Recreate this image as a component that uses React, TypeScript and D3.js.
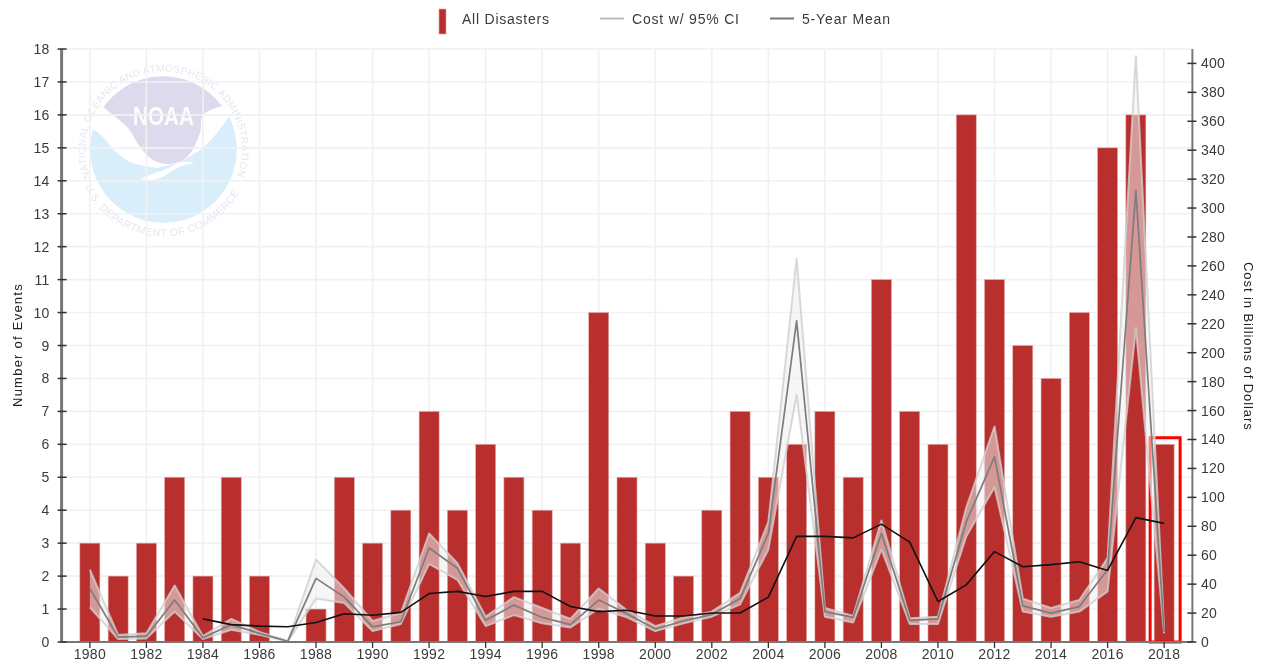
import React from "react";
import * as d3 from "d3";

const years = d3.range(1980, 2019);
const events = [3,2,3,5,2,5,2,0,1,5,3,4,7,4,6,5,4,3,10,5,3,2,4,7,5,6,7,5,11,7,6,16,11,9,8,10,15,16,6];
const costMean = [37,3.4,4,29,3,12,6,0.5,44,31,10.5,14,65,51,15,25.5,17,12,29,19.5,9,14.5,19,30,75,222,21,17,75,15,16,83,128,25,20,24.5,50,312,7];
const costUpper = [50,4.8,6,39,4,16,7,0.7,57,37,14.5,20,75,54.5,17.5,31,23.5,16,37,22,11,17,21,34,83,265,23.5,18,84,16.5,17.5,93,149,30,23.5,29,58,405,8];
const costLower = [24,2,2.5,21,2,8.5,5,0.3,30,27,7.5,12.5,54,43,11,18.6,13,10,23,17,7.5,13,17.5,26,64,171,17.5,13.5,64,12.5,12.5,73,107,21,17.5,21,35,217,6];
const meanYears = d3.range(1984, 2019);
const fiveYearMean = [16,12,11,10.5,13.5,19.5,18.5,20.5,33.5,35,31.5,35,35,24.5,21,22,18,18,20,20,31,73,73,72,81.5,69,28,39.5,62.5,52,53.5,55.5,49.5,86,82];
const eventTicks = d3.range(0, 19);
const costTicks = d3.range(0, 401, 20);
const yearTicks = d3.range(1980, 2019, 2);
const legendItems = ["All Disasters", "Cost w/ 95% CI", "5-Year Mean"];
const leftLabel = "Number of Events";
const rightLabel = "Cost in Billions of Dollars";

const FONT = "'Liberation Sans', Arial, sans-serif";
const TEXT = "#3a3a3a";

const x = d3.scaleLinear().domain([1979, 2019]).range([61.6, 1192.4]);
const yE = d3.scaleLinear().domain([0, 18]).range([642, 49]);
const yC = d3.scaleLinear().domain([0, 400]).range([642, 63.4]);

const idx = years.map((_, i) => i);
const band = d3.area<number>().x((i) => x(years[i])).y0((i) => yC(costLower[i])).y1((i) => yC(costUpper[i]))(idx)!;
const lineOf = (arr: number[]) => d3.line<number>().x((i) => x(years[i])).y((i) => yC(arr[i]))(idx)!;
const meanPath = d3.line<number>().x((_, i) => x(meanYears[i])).y((v) => yC(v))(fiveYearMean)!;

function Logo() {
  const cx = 163.5, cy = 149.5, r = 73.5;
  const rTop = 78, dyTop = 28, dxTop = Math.sqrt(rTop * rTop - dyTop * dyTop);
  const rBot = 87, dyBot = 37, dxBot = Math.sqrt(rBot * rBot - dyBot * dyBot);
  const curve = d3.line().curve(d3.curveCatmullRom.alpha(0.5));
  const tailOf = (pts: [number, number][]) => curve(pts)!.replace(/^M[^C]*/, "");
  const white = "M80,124 L92,128 " + tailOf([[92,128],[103,137],[117,153],[133,163],[157,168]]) +
    " L177,163 " + tailOf([[177,163],[200,150],[217,133],[230,115]]) + " L245,100 L245,60 L80,60 Z";
  const lav = "M103,107 A73.5,73.5 0 0 1 222,106 " + tailOf([[222,106],[203,115],[200,133],[187,157],[170,164],[153,160],[140,147],[128,128],[113,115],[103,107]]) + " Z";
  const tail = "M140,179 C155,172 165,171 177,163 C183,161 190,162 195,163 C185,164 178,167 170,172 C165,176 160,179 152,180 Z";
  return (
    <g>
      <defs>
        <clipPath id="logoClip"><circle cx={cx} cy={cy} r={r} /></clipPath>
        <path id="arcTop" d={`M${cx - dxTop},${cy + dyTop} A${rTop},${rTop} 0 1 1 ${cx + dxTop},${cy + dyTop}`} />
        <path id="arcBot" d={`M${cx - dxBot},${cy + dyBot} A${rBot},${rBot} 0 0 0 ${cx + dxBot},${cy + dyBot}`} />
      </defs>
      <g clipPath="url(#logoClip)">
        <circle cx={cx} cy={cy} r={r} fill="#d9eefb" />
        <path d={white} fill="#fff" />
        <path d={lav} fill="#dcdaec" />
        <path d={tail} fill="#fff" />
      </g>
      <text x={cx} y={125} textAnchor="middle" fontFamily={FONT} fontWeight="bold" fontSize={25} fill="#fff" fillOpacity={0.9} textLength={61} lengthAdjust="spacingAndGlyphs">NOAA</text>
      <text fontFamily={FONT} fontSize={10} fill="#e6e6f2" textLength={300} lengthAdjust="spacing">
        <textPath href="#arcTop">NATIONAL OCEANIC AND ATMOSPHERIC ADMINISTRATION</textPath>
      </text>
      <text fontFamily={FONT} fontSize={10.5} fill="#e6e6f2" textLength={190} lengthAdjust="spacing">
        <textPath href="#arcBot">U.S. DEPARTMENT OF COMMERCE</textPath>
      </text>
    </g>
  );
}

export default function App() {
  return (
    <svg width={1261} height={664} style={{ position: "fixed", left: 0, top: 0, filter: "blur(0.55px)" }}>
      <rect width={1261} height={664} fill="#fff" />
      <Logo />
      <g stroke="#f1f1f3" strokeWidth={1.6}>
        {eventTicks.slice(1).map((t) => <line key={t} x1={x(1979)} x2={x(2019)} y1={yE(t)} y2={yE(t)} />)}
        {yearTicks.map((t) => <line key={t} x1={x(t)} x2={x(t)} y1={yE(18)} y2={yE(0)} />)}
      </g>
      <g fill="#b92f2d" stroke="#e3a9a8" strokeWidth={0.6}>
        {years.map((yr, i) => events[i] > 0 && (
          <rect key={yr} x={x(yr) - 10} width={20} y={yE(events[i])} height={yE(0) - yE(events[i])} />
        ))}
      </g>
      <rect x={x(2018) - 14} width={30} y={yE(6.2)} height={yE(0) - yE(6.2)} fill="none" stroke="#f00" strokeWidth={3} />
      <path d={band} fill="#eeeeee" fillOpacity={0.55} />
      <g fill="none" strokeLinejoin="round">
        <path d={lineOf(costUpper)} stroke="#cfcfcf" strokeOpacity={0.8} strokeWidth={2} />
        <path d={lineOf(costLower)} stroke="#cfcfcf" strokeOpacity={0.8} strokeWidth={2} />
        <path d={lineOf(costMean)} stroke="#7d7d7d" strokeWidth={1.7} />
        <path d={meanPath} stroke="#111" strokeWidth={1.6} />
      </g>
      <g fill={TEXT} fontFamily={FONT} fontSize={14} letterSpacing={0.3}>
        <line x1={x(1979)} x2={x(2019)} y1={yE(0)} y2={yE(0)} stroke="#777" strokeWidth={2} />
        <line x1={x(1979)} x2={x(1979)} y1={yE(18)} y2={yE(0) + 1} stroke="#777" strokeWidth={3} />
        <line x1={x(2019)} x2={x(2019)} y1={yE(18)} y2={yE(0) + 1} stroke="#777" strokeWidth={2} />
        {eventTicks.map((t) => (
          <g key={t}>
            <line x1={x(1979) - 4} x2={x(1979) + 5} y1={yE(t)} y2={yE(t)} stroke="#333" strokeWidth={1.5} />
            <text x={x(1979) - 12} y={yE(t) + 5} textAnchor="end">{t}</text>
          </g>
        ))}
        {costTicks.map((t) => (
          <g key={t}>
            <line x1={x(2019) - 5} x2={x(2019) + 4} y1={yC(t)} y2={yC(t)} stroke="#333" strokeWidth={1.5} />
            <text x={x(2019) + 8.5} y={yC(t) + 5}>{t}</text>
          </g>
        ))}
        {yearTicks.map((t) => (
          <g key={t}>
            <line x1={x(t)} x2={x(t)} y1={yE(0)} y2={yE(0) + 6} stroke="#333" strokeWidth={1.3} />
            <text x={x(t)} y={yE(0) + 17} textAnchor="middle">{t}</text>
          </g>
        ))}
        <text transform="translate(22,345.5) rotate(-90)" textAnchor="middle" fontSize={13} fill="#222" textLength={123}>{leftLabel}</text>
        <text transform="translate(1244,346) rotate(90)" textAnchor="middle" fontSize={13} fill="#222" textLength={168}>{rightLabel}</text>
      </g>
      <g fontFamily={FONT} fontSize={14} fill={TEXT}>
        <rect x={439} y={9} width={7} height={25} fill="#b92f2d" stroke="#e3a9a8" strokeWidth={0.6} />
        <text x={462} y={24} textLength={87}>{legendItems[0]}</text>
        <line x1={600} x2={624} y1={18.5} y2={18.5} stroke="#bbb" strokeWidth={2} />
        <text x={632} y={24} textLength={107}>{legendItems[1]}</text>
        <line x1={770} x2={794} y1={18.5} y2={18.5} stroke="#777" strokeWidth={2} />
        <text x={802} y={24} textLength={88}>{legendItems[2]}</text>
      </g>
    </svg>
  );
}
